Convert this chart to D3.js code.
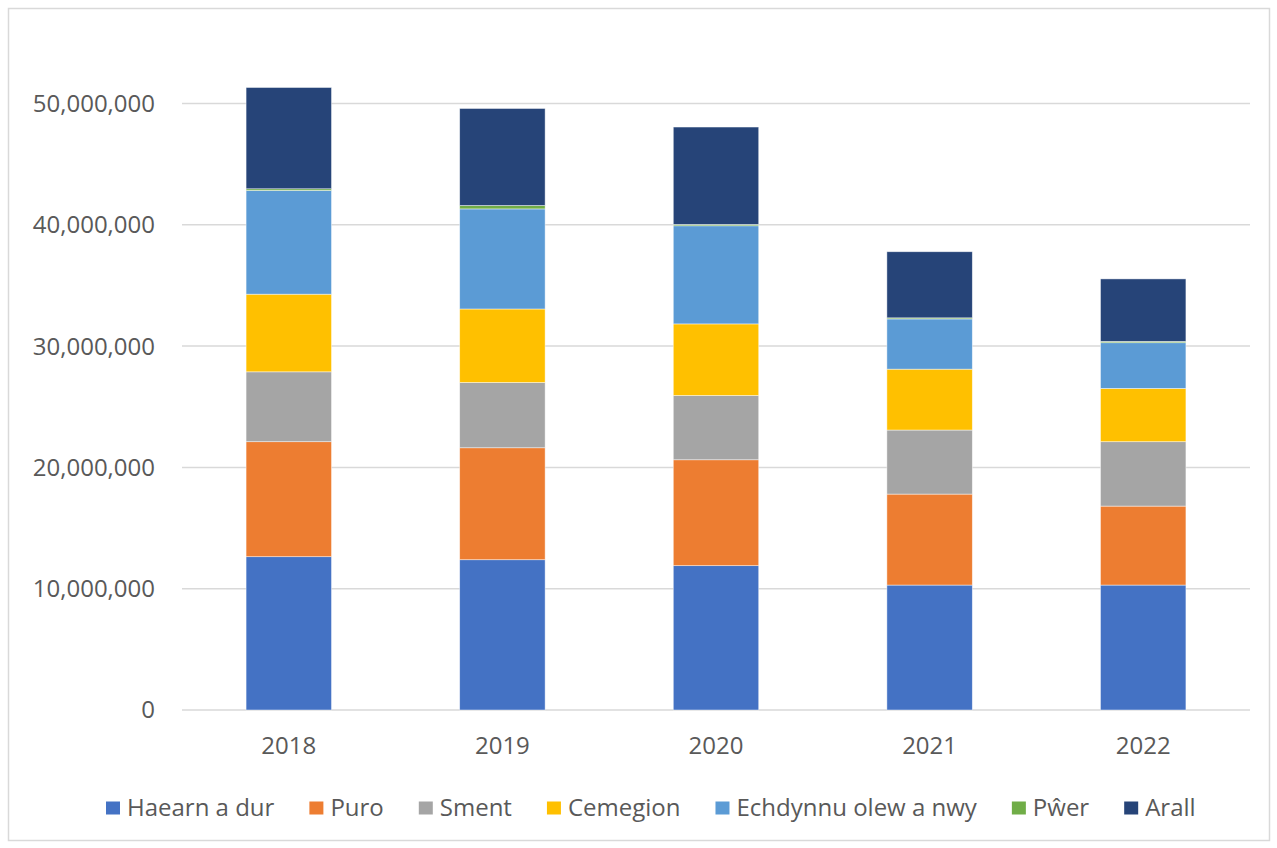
<!DOCTYPE html>
<html><head><meta charset="utf-8">
<script src="https://cdn.jsdelivr.net/npm/d3@7"></script>
<style>body{margin:0;background:#fff;} text{font-family:"Open Sans",sans-serif;}</style>
</head><body>
<svg id="c" width="1277" height="848"></svg>
<script>
const years = ["2018","2019","2020","2021","2022"];
const seriesNames = ["Haearn a dur","Puro","Sment","Cemegion","Echdynnu olew a nwy","Pŵer","Arall"];
const haearn  = [12640000,12390000,11900000,10300000,10300000];
const puro    = [9480000,9230000,8730000,7500000,6510000];
const sment   = [5760000,5380000,5300000,5280000,5310000];
const cemegion= [6400000,6060000,5900000,5020000,4390000];
const echdynnu= [8550000,8250000,8090000,4140000,3770000];
const pwer    = [140000,280000,110000,90000,110000];
const arall   = [8350000,8000000,8030000,5450000,5150000];
const yTicks  = [0,10000000,20000000,30000000,40000000,50000000];
const colors  = ["#4472c4","#ed7d31","#a5a5a5","#ffc000","#5b9bd5","#70ad47","#264478"];

const values = [haearn,puro,sment,cemegion,echdynnu,pwer,arall];
const rows = years.map((y,i)=>{const r={year:y}; seriesNames.forEach((s,j)=>r[s]=values[j][i]); return r;});
const stack = d3.stack().keys(seriesNames)(rows);

const svg = d3.select("#c");
svg.append("rect").attr("x",8.5).attr("y",8.5).attr("width",1261).attr("height",832)
  .attr("fill","#fff").attr("stroke","#d9d9d9").attr("stroke-width",1.5);

const x = d3.scaleBand().domain(years).range([182,1250]).paddingInner(0.6).paddingOuter(0.3);
const y = d3.scaleLinear().domain([0,50000000]).range([710,103.5]);

// gridlines
svg.append("g").selectAll("line").data(yTicks).join("line")
  .attr("x1",182).attr("x2",1250).attr("y1",d=>y(d)).attr("y2",d=>y(d))
  .attr("stroke","#d9d9d9").attr("stroke-width",1.5);

// y labels
svg.append("g").selectAll("text").data(yTicks).join("text")
  .attr("x",155).attr("y",d=>y(d)).attr("dy","0.35em").attr("text-anchor","end")
  .attr("font-size",24).attr("fill","#595959").text(d=>d3.format(",")(d));

// bars
svg.append("g").selectAll("g").data(stack).join("g")
  .attr("fill",(d,i)=>colors[i])
  .selectAll("rect").data(d=>d).join("rect")
  .attr("x",d=>x(d.data.year)).attr("width",x.bandwidth())
  .attr("y",d=>y(d[1])).attr("height",d=>y(d[0])-y(d[1]))
  .attr("stroke","#fff").attr("stroke-width",0.75).attr("stroke-opacity",0.6);

// x labels
svg.append("g").selectAll("text").data(years).join("text")
  .attr("x",d=>x(d)+x.bandwidth()/2).attr("y",746).attr("dy","0.35em").attr("text-anchor","middle")
  .attr("font-size",24).attr("fill","#595959").text(d=>d);

// legend
const lg = svg.append("g");
let cx = 106;
seriesNames.forEach((s,i)=>{
  const g = lg.append("g").attr("transform",`translate(${cx},808)`);
  g.append("rect").attr("x",0).attr("y",-6.5).attr("width",14).attr("height",13).attr("fill",colors[i]);
  const t = g.append("text").attr("x",21).attr("y",0).attr("dy","0.35em").attr("font-size",24).attr("fill","#595959").text(s);
  const w = t.node().getComputedTextLength();
  cx += 21 + w + 35;
});
</script>
</body></html>
